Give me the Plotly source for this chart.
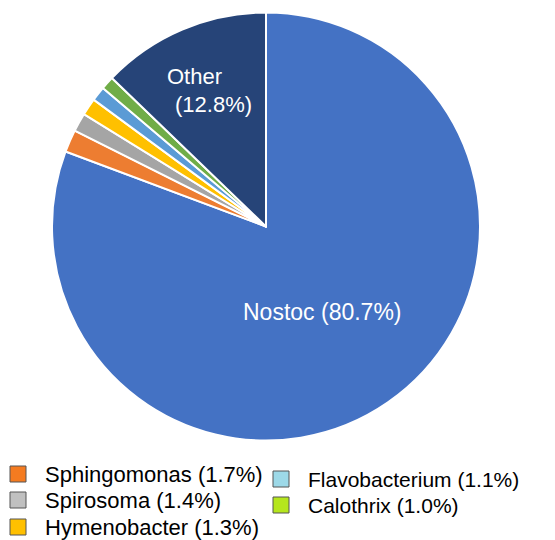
import plotly.graph_objects as go

labels = ["Nostoc", "Sphingomonas", "Spirosoma", "Hymenobacter", "Flavobacterium", "Calothrix", "Other"]
values = [80.7, 1.7, 1.4, 1.3, 1.1, 1.0, 12.8]
slice_colors = ["#4472C4", "#ED7D31", "#A5A5A5", "#FFC000", "#5B9BD5", "#70AD47", "#264478"]
legend_colors = {"Sphingomonas": "#F47B20", "Spirosoma": "#C0C0C0", "Hymenobacter": "#FFC000",
                 "Flavobacterium": "#9DD9E8", "Calothrix": "#B5E61D"}

OFF = 8  # page body margin
W, H = 555 - OFF, 540 - OFF
def px(x): return (x - OFF) / W
def py(y): return 1 - (y - OFF) / H

fig = go.Figure(go.Pie(
    labels=labels, values=values, sort=False, direction="clockwise", rotation=0,
    marker=dict(colors=slice_colors, line=dict(color="white", width=2)),
    textinfo="none", hoverinfo="label+percent", showlegend=False,
    domain=dict(x=[px(52), px(480)], y=[py(441), py(12)]),
))

font = "Liberation Sans, Arial, sans-serif"
ann = []
ann.append(dict(x=px(194), y=py(76), text=labels[6], font=dict(color="white", size=22, family=font)))
ann.append(dict(x=px(213), y=py(104), text=f"({values[6]:.1f}%)", font=dict(color="white", size=22, family=font)))
ann.append(dict(x=px(322), y=py(312), text=f"{labels[0]} ({values[0]:.1f}%)",
                font=dict(color="white", size=23, family=font)))

# custom legend: (square left x, row center y, font size)
leg_pos = {"Sphingomonas": (10, 474, 22), "Spirosoma": (10, 500, 22), "Hymenobacter": (10, 527, 22),
           "Flavobacterium": (273, 479, 21), "Calothrix": (273, 505, 21)}
shapes = []
for lab, val in zip(labels, values):
    if lab not in leg_pos:
        continue
    x0, yc, fs = leg_pos[lab]
    shapes.append(dict(type="rect", xref="paper", yref="paper",
                       x0=px(x0), x1=px(x0 + 16), y0=py(yc + 8), y1=py(yc - 8),
                       fillcolor=legend_colors[lab], line=dict(color="#555555", width=1)))
    ann.append(dict(x=px(x0 + 33), y=py(yc), xanchor="left", text=f"{lab} ({val:.1f}%)",
                    font=dict(color="black", size=fs, family=font)))

for a in ann:
    a.update(xref="paper", yref="paper", showarrow=False, yanchor="middle")

fig.update_layout(width=W, height=H, margin=dict(l=0, r=0, t=0, b=0),
                  paper_bgcolor="white", plot_bgcolor="white",
                  annotations=ann, shapes=shapes)
fig.write_html("out.html")
